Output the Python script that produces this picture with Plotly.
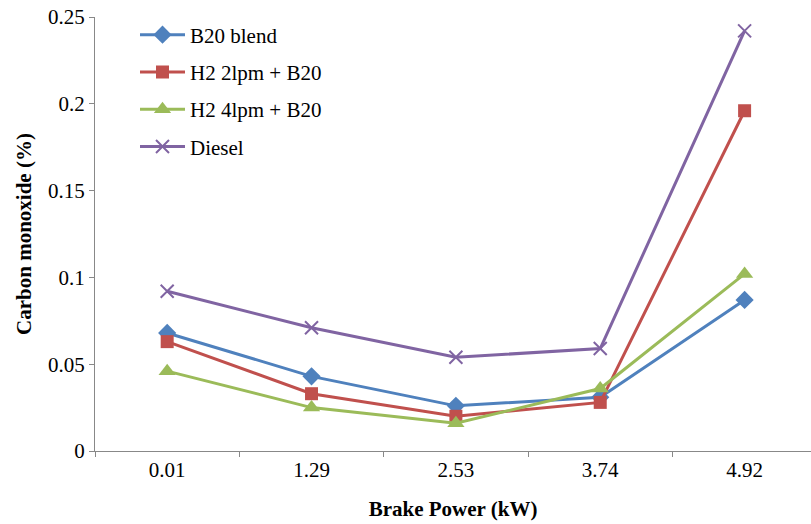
import plotly.graph_objects as go

categories = ["0.01", "1.29", "2.53", "3.74", "4.92"]
b20 = [0.068, 0.043, 0.026, 0.031, 0.087]
h2_2lpm = [0.063, 0.033, 0.020, 0.028, 0.196]
h2_4lpm = [0.046, 0.025, 0.016, 0.036, 0.102]
diesel = [0.092, 0.071, 0.054, 0.059, 0.242]

series = [
    ("B20 blend", b20, "#4F81BD", "diamond", 14),
    ("H2 2lpm + B20", h2_2lpm, "#C0504D", "square", 13),
    ("H2 4lpm + B20", h2_4lpm, "#9BBB59", "triangle-up", 15),
    ("Diesel", diesel, "#8064A2", "x-thin-open", 13),
]

fig = go.Figure()
for i, (name, vals, color, sym, sz) in enumerate(series):
    fig.add_trace(go.Scatter(
        x=categories, y=vals, name=name, mode="lines+markers",
        line=dict(color=color, width=3),
        marker=dict(symbol=sym, size=sz, color=color,
                    line=dict(color=color, width=2 if sym.startswith("x") else 0)),
        legendgroup=str(i),
    ))

W, H = 811, 524
L, T, B = 95, 17, 73
pw, ph = W - L, H - T - B
FONT = "Liberation Serif, Times New Roman, serif"
fig.update_layout(
    width=W, height=H,
    margin=dict(l=L, r=0, t=T, b=B, autoexpand=False),
    paper_bgcolor="white", plot_bgcolor="white",
    font=dict(family=FONT, size=21, color="black"),
    showlegend=True,
    legend=dict(x=(135 - L) / pw, y=1 + 2.5 / ph,
                xanchor="left", yanchor="top", bgcolor="rgba(0,0,0,0)",
                font=dict(family=FONT, size=21), tracegroupgap=7, itemwidth=45),
    xaxis=dict(type="category", range=[-0.5, 4.46], showline=True,
               linecolor="#888888", linewidth=1, ticks="outside", tickson="boundaries",
               ticklen=5, tickcolor="#888888", showgrid=False, zeroline=False,
               tickfont=dict(family=FONT, size=21),
               title=dict(text="<b>Brake Power (kW)</b>", font=dict(family=FONT, size=21), standoff=20)),
    yaxis=dict(range=[0, 0.25], dtick=0.05, showline=True, linecolor="#888888",
               linewidth=1, ticks="outside", ticklen=5, tickcolor="#888888",
               showgrid=False, zeroline=False, tickfont=dict(family=FONT, size=21),
               tickformat="~g",
               title=dict(text="<b>Carbon monoxide (%)</b>", font=dict(family=FONT, size=21), standoff=10)),
)
fig.write_html("out.html")
